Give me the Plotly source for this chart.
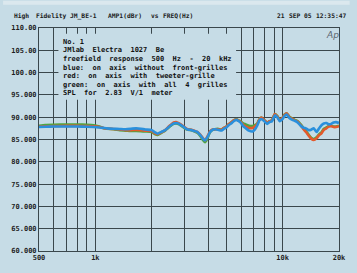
import plotly.graph_objects as go

# ---------------- data ----------------
freq_hz = [500, 540, 600, 700, 800, 900, 980, 1050, 1100, 1150, 1250, 1350, 1450, 1550,
           1650, 1750, 1850, 2000, 2080, 2150, 2250, 2360, 2450, 2530, 2620, 2700, 2800,
           2920, 3030, 3110, 3250, 3380, 3500, 3630, 3750, 3850, 3950, 4090, 4200, 4340,
           4500, 4720, 4850, 5010, 5150, 5310, 5480, 5640, 5800, 5990, 6150, 6360, 6600,
           6910, 7100, 7330, 7500, 7700, 7950, 8270, 8500, 8770, 9090, 9350, 9650, 10000,
           10250, 10500, 10870, 11270, 11600, 11970, 12550, 13000, 13320, 13810, 14200,
           14660, 15190, 15600, 16130, 16600, 17120, 17600, 18170, 18700, 19290, 20000]

blue_db = [87.8, 87.85, 87.9, 87.9, 87.9, 87.85, 87.8, 87.7, 87.6, 87.5, 87.4, 87.35, 87.3, 87.4,
           87.5, 87.4, 87.25, 87.1, 86.6, 86.3, 86.7, 87.1, 87.7, 88.2, 88.6, 88.7, 88.5,
           88.0, 87.5, 87.25, 87.15, 86.9, 86.7, 86.0, 85.2, 84.8, 85.4, 86.6, 87.1, 87.3,
           87.2, 87.0, 87.4, 87.7, 88.2, 88.6, 89.1, 89.4, 89.2, 88.7, 88.0, 87.5, 87.0,
           86.8, 87.2, 88.2, 89.2, 89.6, 89.2, 88.5, 88.9, 89.1, 90.4, 90.0, 89.1, 89.6,
           90.3, 90.6, 89.8, 89.4, 89.2, 88.9, 88.0, 87.6, 87.5, 87.1, 87.2,
           87.5, 86.7, 87.4, 88.2, 88.6, 88.7, 88.4, 88.5, 88.8, 88.9, 88.7]

red_db = [87.85, 87.95, 88.0, 88.05, 88.05, 88.0, 87.95, 87.8, 87.6, 87.45, 87.35, 87.25, 87.1, 87.1,
          87.15, 87.1, 87.0, 86.9, 86.4, 86.2, 86.6, 87.1, 87.8, 88.3, 88.8, 88.9, 88.6,
          88.1, 87.6, 87.3, 87.2, 86.95, 86.7, 86.1, 85.3, 84.8, 85.5, 86.8, 87.2, 87.3,
          87.3, 87.2, 87.6, 87.9, 88.4, 88.8, 89.3, 89.5, 89.3, 88.9, 88.3, 87.9, 87.6,
          87.6, 87.9, 88.5, 89.4, 89.9, 89.4, 88.7, 89.1, 89.3, 90.7, 90.2, 89.3, 89.9,
          90.5, 90.9, 90.0, 89.6, 89.3, 89.1, 88.1, 87.2, 86.7, 85.8, 85.2,
          84.9, 85.3, 85.9, 86.4, 87.2, 87.5, 87.9, 88.0, 87.8, 87.8, 88.0]

green_db = [88.05, 88.25, 88.3, 88.35, 88.35, 88.3, 88.2, 87.9, 87.6, 87.4, 87.3, 87.1, 87.0, 86.9,
            86.9, 86.85, 86.8, 86.7, 86.2, 86.0, 86.5, 87.0, 87.6, 88.1, 88.5, 88.6, 88.4,
            87.9, 87.4, 87.2, 87.1, 86.8, 86.5, 85.8, 84.9, 84.4, 85.1, 86.6, 87.1, 87.3,
            87.4, 87.2, 87.6, 87.9, 88.4, 88.8, 89.3, 89.6, 89.3, 89.0, 88.6, 88.4, 88.1,
            88.0, 88.2, 88.6, 89.5, 89.9, 89.4, 88.8, 89.1, 89.3, 90.7, 90.3, 89.4, 89.9,
            90.6, 90.9, 90.1, 89.7, 89.4, 89.2, 88.3, 87.4, 86.9, 86.0, 85.4,
            85.1, 85.5, 86.1, 86.6, 87.4, 87.7, 88.0, 88.1, 87.9, 87.9, 88.1]

x_grid_hz = [500, 600, 700, 800, 900, 1000, 2000, 3000, 4000, 5000, 6000, 7000, 8000, 9000,
             10000, 20000]
x_grid_labels = ["500", "", "", "", "", "1k", "", "", "", "", "", "", "", "", "10k", "20k"]
y_ticks = [60, 65, 70, 75, 80, 85, 90, 95, 100, 105, 110]
y_tick_labels = ["60.000", "65.000", "70.000", "75.000", "80.000", "85.000", "90.000",
                 "95.000", "100.00", "105.00", "110.00"]

header_words = ["High", "Fidelity", "JM_BE-1", "AMP1(dBr)", "vs", "FREQ(Hz)",
                "21", "SEP", "05", "12:35:47"]
header_x_px = [9, 32, 67, 106, 150, 163, 280, 292, 308, 320]

note_lines = ["No. 1",
              "JMlab  Electra  1027  Be",
              "freefield  response  500  Hz  -  20  kHz",
              "blue:  on  axis  without  front-grilles",
              "red:  on  axis  with  tweeter-grille",
              "green:  on  axis  with  all  4  grilles",
              "SPL  for  2.83  V/1  meter"]
note_y_px = [42, 51, 60, 69, 78, 87, 95.5]

# ---------------- layout geometry ----------------
W, H = 357, 273
L, R, T, B = 37, 346, 28, 258
BG = "#c6dce6"
GRID = "#3a474c"
MONO = "DejaVu Sans Mono"


def px(xp):
    return (xp - L) / (R - L)


def py(yp):
    return (B - yp) / (B - T)


fig = go.Figure()
for name, vals, col in [("green", green_db, "#4ea640"),
                        ("red", red_db, "#e35a2c"),
                        ("blue", blue_db, "#2a90dc")]:
    fig.add_trace(go.Scatter(x=freq_hz, y=vals, mode="lines", name=name,
                             line=dict(color=col, width=2.6, shape="spline", smoothing=0.5),
                             hoverinfo="skip"))

fig.update_layout(
    width=W, height=H,
    margin=dict(l=L, r=W - R, t=T, b=H - B, pad=0),
    paper_bgcolor=BG, plot_bgcolor=BG,
    showlegend=False,
    font=dict(family=MONO, size=7, color="#1e1e1e"),
)
fig.update_xaxes(type="log", range=[2.69897, 4.30103], tickvals=x_grid_hz,
                 ticktext=x_grid_labels, showgrid=True, gridcolor=GRID, gridwidth=1,
                 showline=True, linecolor=GRID, linewidth=1, mirror=True, ticks="",
                 tickfont=dict(family=MONO, size=7, color="#1e1e1e", weight="bold"),
                 zeroline=False, fixedrange=True)
fig.update_yaxes(range=[60, 110], tickvals=y_ticks, ticktext=y_tick_labels,
                 showgrid=True, gridcolor=GRID, gridwidth=1,
                 showline=True, linecolor=GRID, linewidth=1, mirror=True, ticks="",
                 tickfont=dict(family=MONO, size=7, color="#1e1e1e", weight="bold"),
                 zeroline=False, fixedrange=True)

# opaque note box covering the grid
fig.add_shape(type="rect", xref="paper", yref="paper", x0=px(57), x1=px(240),
              y0=py(102), y1=py(34), fillcolor=BG, line=dict(width=0), layer="above")
# light scan frame at top
fig.add_shape(type="rect", xref="paper", yref="paper", x0=px(0), x1=px(W),
              y0=py(4), y1=py(0), fillcolor="#dbe8ee", line=dict(width=0), layer="above")

nb = "\u00a0"
for w, xp in zip(header_words, header_x_px):
    fig.add_annotation(text=w, xref="paper", yref="paper", x=px(xp), y=py(15.5),
                       xanchor="left", yanchor="middle", showarrow=False,
                       font=dict(family=MONO, size=6.3, color="#1a1a1a", weight="bold"))

for line, yp in zip(note_lines, note_y_px):
    fig.add_annotation(text=line.replace(" ", nb), xref="paper", yref="paper",
                       x=px(60), y=py(yp), xanchor="left", yanchor="middle",
                       showarrow=False,
                       font=dict(family=MONO, size=7, color="#111111", weight="bold"))

fig.add_annotation(text="Ap", xref="paper", yref="paper", x=px(339), y=py(35),
                   xanchor="center", yanchor="middle", showarrow=False,
                   font=dict(family="DejaVu Sans", size=9, color="#5a6670", style="italic"))

fig.write_html("out.html", config={"displayModeBar": False},
               post_script="document.body.style.margin='0';document.body.style.overflow='hidden';")
